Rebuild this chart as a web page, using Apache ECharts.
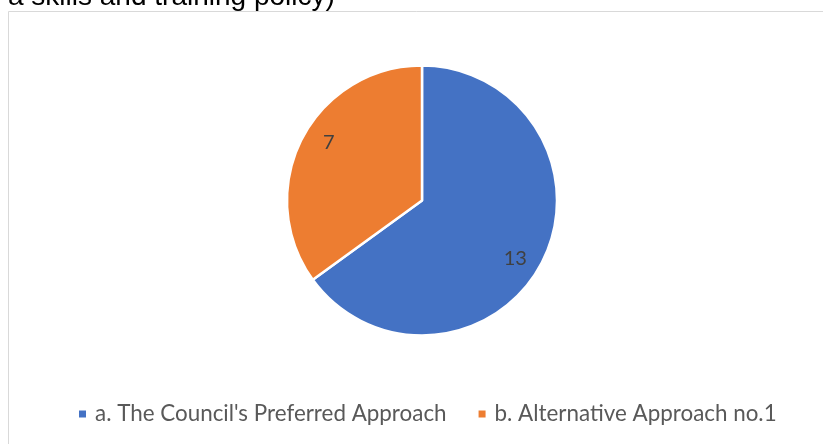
<!DOCTYPE html>
<html>
<head>
<meta charset="utf-8">
<script src="https://cdn.jsdelivr.net/npm/echarts@6/dist/echarts.min.js"></script>
<style>
  html, body { margin: 0; padding: 0; background: #ffffff; }
  #chart { width: 823px; height: 444px; }
</style>
</head>
<body>
<div id="chart"></div>
<script>
// Responses per approach
const categories = ["a. The Council's Preferred Approach", "b. Alternative Approach no.1"];
const responses = [13, 7];
const sliceColors = ['#4472C4', '#ED7D31'];
const headingText = 'a skills and training policy)';

const pieData = categories.map((name, i) => ({
  name: name,
  value: responses[i],
  itemStyle: { color: sliceColors[i] }
}));

const chart = echarts.init(document.getElementById('chart'), null, { renderer: 'canvas' });

const center = [422, 200.5];
const outerR = 135;

chart.setOption({
  animation: false,
  backgroundColor: '#ffffff',
  title: {
    text: headingText,
    left: 3,
    top: -22,
    textStyle: {
      fontFamily: 'Liberation Sans, Arial, sans-serif',
      fontSize: 28,
      fontWeight: 'normal',
      color: '#000000'
    }
  },
  graphic: [{
    type: 'rect',
    silent: true,
    shape: { x: 8.5, y: 11.5, width: 830, height: 450 },
    style: { fill: 'none', stroke: '#d9d9d9', lineWidth: 1 }
  }],
  legend: {
    data: categories,
    left: 72,
    top: 398,
    itemWidth: 9,
    itemHeight: 9,
    itemGap: 30,
    icon: 'rect',
    textStyle: {
      fontFamily: 'Lato, sans-serif',
      fontSize: 22.4,
      color: '#595959',
      padding: [0, 0, 0, 3]
    }
  },
  series: [
    {
      type: 'pie',
      center: center,
      radius: [0, outerR],
      startAngle: 90,
      clockwise: true,
      silent: true,
      data: pieData,
      label: { show: false },
      labelLine: { show: false },
      itemStyle: { borderColor: '#ffffff', borderWidth: 2.5 }
    },
    {
      // transparent ring that carries the value labels further out from the centre
      type: 'pie',
      center: center,
      radius: [79, outerR],
      startAngle: 85,
      clockwise: true,
      silent: true,
      data: pieData.map(d => ({ name: d.name, value: d.value })),
      itemStyle: { color: 'rgba(0,0,0,0)' },
      label: {
        show: true,
        position: 'inside',
        formatter: '{c}',
        fontFamily: 'Lato, sans-serif',
        fontSize: 20,
        color: '#404040'
      },
      labelLine: { show: false }
    }
  ]
});
</script>
</body>
</html>
